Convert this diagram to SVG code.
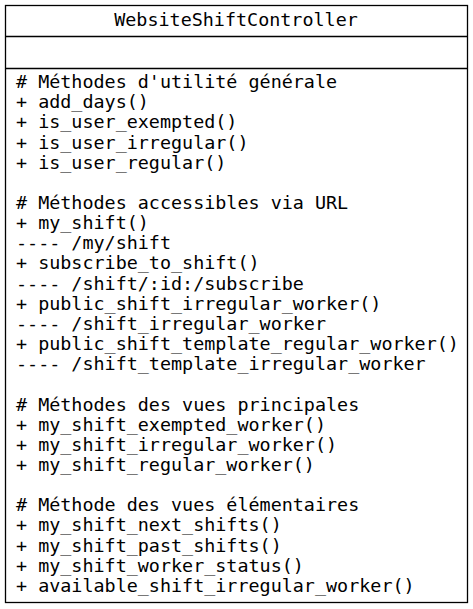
<svg xmlns="http://www.w3.org/2000/svg" width="473" height="609" viewBox="0 0 473 609">
<style>
.t{font-family:"DejaVu Sans Mono",monospace;font-size:18.4px;fill:#000;white-space:pre}
.b{fill:#fff;stroke:#000;stroke-width:1.3}
.l{stroke:#000;stroke-width:1.3}
</style>
<rect width="473" height="609" fill="#fff"/>
<g id="WebsiteShiftController">
<rect class="b" x="5.5" y="5.5" width="462" height="597"/>
<line class="l" x1="5.5" y1="36.5" x2="467.5" y2="36.5"/>
<line class="l" x1="5.5" y1="68.5" x2="467.5" y2="68.5"/>
<text class="t" x="236" y="26" text-anchor="middle">WebsiteShiftController</text>
<text class="t" x="16">
<tspan x="16" y="88">#&#160;Méthodes d'utilité générale</tspan>
<tspan x="16" y="108.2">+ add_days()</tspan>
<tspan x="16" y="128.3">+ is_user_exempted()</tspan>
<tspan x="16" y="148.5">+ is_user_irregular()</tspan>
<tspan x="16" y="168.6">+ is_user_regular()</tspan>
<tspan x="16" y="208.9"># Méthodes accessibles via URL</tspan>
<tspan x="16" y="229.1">+ my_shift()</tspan>
<tspan x="16" y="249.2">---- /my/shift</tspan>
<tspan x="16" y="269.4">+ subscribe_to_shift()</tspan>
<tspan x="16" y="289.5">---- /shift/:id:/subscribe</tspan>
<tspan x="16" y="309.7">+ public_shift_irregular_worker()</tspan>
<tspan x="16" y="329.8">---- /shift_irregular_worker</tspan>
<tspan x="16" y="350">+ public_shift_template_regular_worker()</tspan>
<tspan x="16" y="370.2">---- /shift_template_irregular_worker</tspan>
<tspan x="16" y="410.5"># Méthodes des vues principales</tspan>
<tspan x="16" y="430.6">+ my_shift_exempted_worker()</tspan>
<tspan x="16" y="450.8">+ my_shift_irregular_worker()</tspan>
<tspan x="16" y="470.9">+ my_shift_regular_worker()</tspan>
<tspan x="16" y="511.2"># Méthode des vues élémentaires</tspan>
<tspan x="16" y="531.4">+ my_shift_next_shifts()</tspan>
<tspan x="16" y="551.5">+ my_shift_past_shifts()</tspan>
<tspan x="16" y="571.7">+ my_shift_worker_status()</tspan>
<tspan x="16" y="591.8">+ available_shift_irregular_worker()</tspan>
</text>
</g>
</svg>
